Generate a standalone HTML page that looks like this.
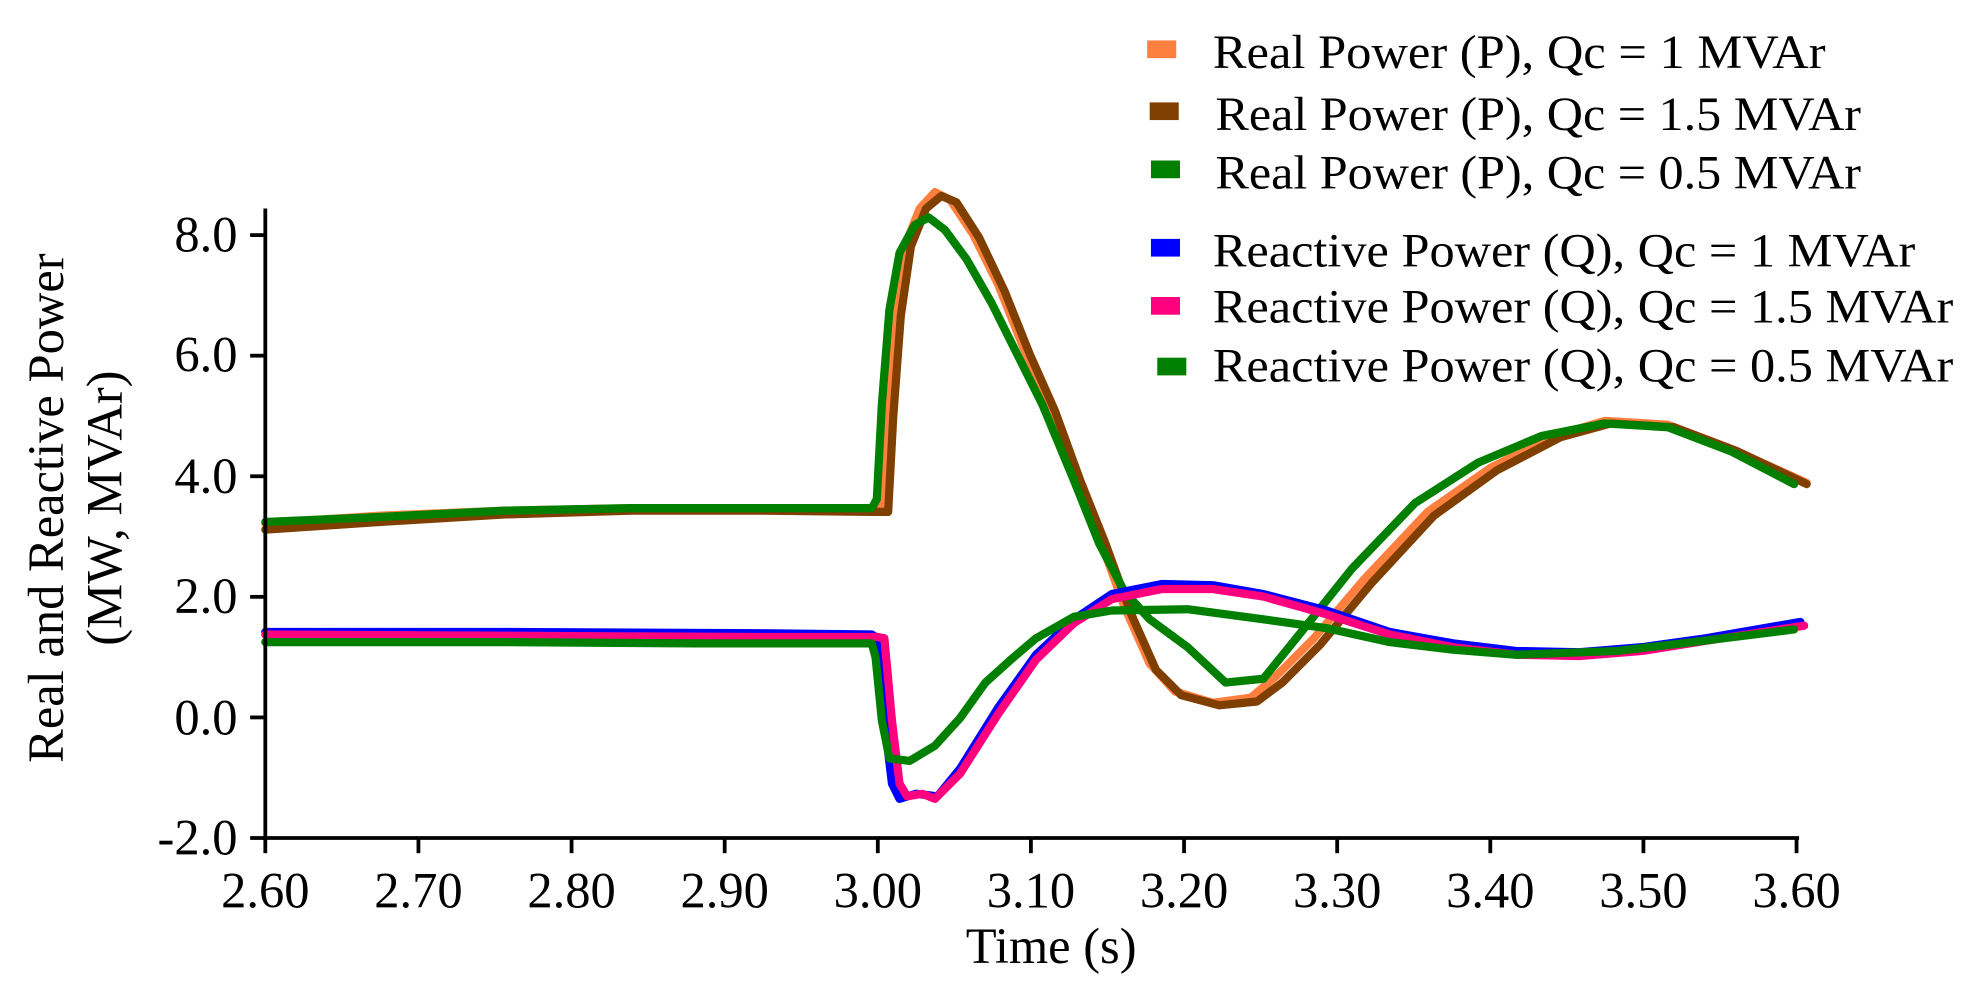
<!DOCTYPE html>
<html><head><meta charset="utf-8"><style>
html,body{margin:0;padding:0;background:#fff;}
svg{display:block;}
text{font-family:"Liberation Serif",serif;fill:#000;}
</style></head><body>
<svg width="1981" height="996" viewBox="0 0 1568 788" preserveAspectRatio="none" xmlns="http://www.w3.org/2000/svg">
<g fill="none" stroke-width="6.5" stroke-linejoin="round" stroke-linecap="round">
<polyline stroke="#ff7f3f" points="210,414 300,408 400,404 500,402 600,402 690,403 698,404 702,330 708,250 716,195 728,165 740,152 752,158 770,185 790,225 810,275 830,320 850,375 870,425 890,480 910,525 930,547 960,556 990,552 1010,535 1040,505 1080,458 1130,405 1180,370 1230,345 1270,333 1320,336 1370,355 1430,382"/>
<polyline stroke="#7f3f00" points="210,419 300,413 400,407 500,404 600,404 690,405 703,405 707,330 713,250 721,195 733,165 745,155 757,160 775,188 795,230 815,280 835,325 855,380 875,430 895,485 915,530 935,550 965,558 995,555 1015,540 1045,510 1085,462 1135,408 1185,372 1235,346 1275,335 1325,338 1375,357 1430,383"/>
<polyline stroke="#007f00" points="210,413 300,409 400,404 500,402 600,402 690,402 694,395 698,320 704,245 712,200 724,178 735,172 748,182 765,205 785,240 805,280 825,320 850,380 870,430 890,468 910,490 940,512 970,540 1000,537 1030,500 1070,450 1120,398 1170,366 1220,345 1270,335 1320,338 1370,357 1420,383"/>
<polyline stroke="#0000ff" points="210,500 400,500 600,501 690,502 695,505 700,570 706,620 712,632 725,628 742,630 760,608 790,560 820,518 850,490 880,470 920,462 960,463 1000,470 1050,483 1100,500 1150,509 1200,515 1250,516 1300,512 1350,505 1425,492"/>
<polyline stroke="#ff007f" points="210,502 400,503 600,504 695,504 700,505 706,570 712,620 718,630 730,628 740,632 760,612 790,565 820,522 850,493 880,474 920,466 960,466 1000,472 1050,486 1100,502 1150,512 1200,518 1250,519 1300,515 1350,507 1428,495"/>
<polyline stroke="#007f00" points="210,508 400,508 550,509 690,509 693,520 698,570 704,600 720,602 740,590 760,568 780,540 800,522 820,505 850,488 880,483 940,482 1000,490 1050,497 1100,508 1150,514 1200,518 1280,515 1340,508 1420,498"/>
</g>
<g stroke="#000" stroke-width="3" fill="none">
<line x1="210" y1="165" x2="210" y2="664"/>
<line x1="208" y1="663" x2="1424" y2="663"/>
<line x1="198" y1="186" x2="210" y2="186"/>
<line x1="198" y1="281.4" x2="210" y2="281.4"/>
<line x1="198" y1="376.8" x2="210" y2="376.8"/>
<line x1="198" y1="472.2" x2="210" y2="472.2"/>
<line x1="198" y1="567.6" x2="210" y2="567.6"/>
<line x1="198" y1="663" x2="210" y2="663"/>
<line x1="210" y1="663" x2="210" y2="675"/>
<line x1="331.2" y1="663" x2="331.2" y2="675"/>
<line x1="452.4" y1="663" x2="452.4" y2="675"/>
<line x1="573.6" y1="663" x2="573.6" y2="675"/>
<line x1="694.8" y1="663" x2="694.8" y2="675"/>
<line x1="816" y1="663" x2="816" y2="675"/>
<line x1="937.2" y1="663" x2="937.2" y2="675"/>
<line x1="1058.4" y1="663" x2="1058.4" y2="675"/>
<line x1="1179.6" y1="663" x2="1179.6" y2="675"/>
<line x1="1300.8" y1="663" x2="1300.8" y2="675"/>
<line x1="1422" y1="663" x2="1422" y2="675"/>
</g>
<g font-size="40" text-anchor="end">
<text x="188" y="199">8.0</text>
<text x="188" y="294">6.0</text>
<text x="188" y="390">4.0</text>
<text x="188" y="485">2.0</text>
<text x="188" y="581">0.0</text>
<text x="188" y="676">-2.0</text>
</g>
<g font-size="40" text-anchor="middle">
<text x="210" y="718">2.60</text>
<text x="331.2" y="718">2.70</text>
<text x="452.4" y="718">2.80</text>
<text x="573.6" y="718">2.90</text>
<text x="694.8" y="718">3.00</text>
<text x="816" y="718">3.10</text>
<text x="937.2" y="718">3.20</text>
<text x="1058.4" y="718">3.30</text>
<text x="1179.6" y="718">3.40</text>
<text x="1300.8" y="718">3.50</text>
<text x="1422" y="718">3.60</text>
<text x="832" y="762">Time (s)</text>
<text transform="translate(50,402) rotate(-90)">Real and Reactive Power</text>
<text transform="translate(96,402) rotate(-90)">(MW, MVAr)</text>
</g>
<g font-size="38">
<rect x="908" y="32" width="23" height="14" fill="#ff7f3f"/>
<text x="960" y="54" textLength="485" lengthAdjust="spacingAndGlyphs">Real Power (P), Qc = 1 MVAr</text>
<rect x="910" y="81" width="23" height="14" fill="#7f3f00"/>
<text x="962" y="103" textLength="511" lengthAdjust="spacingAndGlyphs">Real Power (P), Qc = 1.5 MVAr</text>
<rect x="911" y="127" width="23" height="14" fill="#007f00"/>
<text x="962" y="149" textLength="511" lengthAdjust="spacingAndGlyphs">Real Power (P), Qc = 0.5 MVAr</text>
<rect x="911" y="189" width="23" height="14" fill="#0000ff"/>
<text x="960" y="211" textLength="556" lengthAdjust="spacingAndGlyphs">Reactive Power (Q), Qc = 1 MVAr</text>
<rect x="911" y="235" width="23" height="14" fill="#ff007f"/>
<text x="960" y="255" textLength="586" lengthAdjust="spacingAndGlyphs">Reactive Power (Q), Qc = 1.5 MVAr</text>
<rect x="916" y="283" width="23" height="14" fill="#007f00"/>
<text x="960" y="302" textLength="586" lengthAdjust="spacingAndGlyphs">Reactive Power (Q), Qc = 0.5 MVAr</text>
</g>
</svg>
</body></html>
